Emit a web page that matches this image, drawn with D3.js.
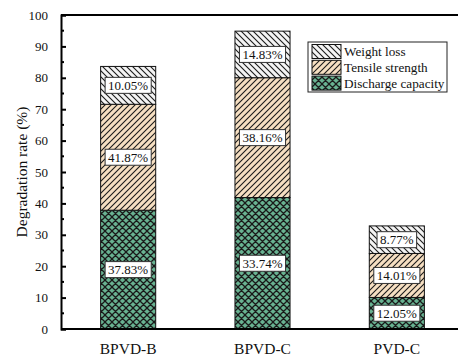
<!DOCTYPE html>
<html>
<head>
<meta charset="utf-8">
<script src="https://cdn.jsdelivr.net/npm/d3@7"></script>
<style>
  html, body { margin: 0; padding: 0; background: #fff; }
  svg { display: block; }
</style>
</head>
<body>
<svg id="chart" width="458" height="359"></svg>
<script>
// Samples on the x axis
const categories = ["BPVD-B", "BPVD-C", "PVD-C"];

// Stacked segment heights (degradation rate, %)
const dischargeCapacity = [37.83, 41.87, 10.05];
const tensileStrength   = [33.74, 38.16, 14.01];
const weightLoss        = [12.05, 14.83, 8.77];

// Percentages printed in the boxes on each segment
const dischargeLabels = ["37.83%", "33.74%", "12.05%"];
const tensileLabels   = ["41.87%", "38.16%", "14.01%"];
const weightLabels    = ["10.05%", "14.83%", "8.77%"];

const seriesNames = ["Discharge capacity", "Tensile strength", "Weight loss"];
const yTicks = [0, 10, 20, 30, 40, 50, 60, 70, 80, 90, 100];

const FONT = "'Liberation Serif', 'DejaVu Serif', serif";

const svg = d3.select("#chart")
  .attr("font-family", FONT)
  .style("font-family", FONT);
const W = 458, H = 359;
const plotLeft = 61, plotRight = 464, plotTop = 15, plotBottom = 329;

// Hatch patterns
const defs = svg.append("defs");
function hatch(id, bg, d, size, sw) {
  const p = defs.append("pattern").attr("id", id)
    .attr("patternUnits", "userSpaceOnUse")
    .attr("width", size).attr("height", size);
  p.append("rect").attr("width", size).attr("height", size).attr("fill", bg);
  p.append("path").attr("d", d).attr("stroke", "#1a1a1a")
    .attr("stroke-width", sw).attr("fill", "none");
}
hatch("pat-cross", "#68b291",
  "M0,0 L7,7 M0,7 L7,0 M-1,1 L1,-1 M6,8 L8,6 M-1,6 L1,8 M6,-1 L8,1", 7, 1.3);
hatch("pat-fwd", "#f6dfc2", "M0,6 L6,0 M-1,1 L1,-1 M5,7 L7,5", 6, 1.1);
hatch("pat-back", "#f4f4f4", "M0,0 L6,6 M-1,5 L1,7 M5,-1 L7,1", 6, 1.1);

const fills = ["url(#pat-cross)", "url(#pat-fwd)", "url(#pat-back)"];

const x = d3.scaleBand().domain(categories).range([plotLeft, plotRight])
  .paddingInner(0.59).paddingOuter(0.295);
const y = d3.scaleLinear().domain([0, 100]).range([plotBottom, plotTop]);

// Stack the three series
const rows = categories.map((c, i) => ({
  cat: c,
  "Discharge capacity": dischargeCapacity[i],
  "Tensile strength": tensileStrength[i],
  "Weight loss": weightLoss[i]
}));
const labelSets = [dischargeLabels, tensileLabels, weightLabels];
const stacked = d3.stack().keys(seriesNames)(rows);

function label(sel) {
  return sel.attr("font-family", FONT).style("font-family", FONT).attr("fill", "#111");
}

const g = svg.append("g");
stacked.forEach((layer, li) => {
  g.selectAll(null).data(layer).enter().append("rect")
    .attr("x", d => x(d.data.cat))
    .attr("width", x.bandwidth())
    .attr("y", d => y(d[1]))
    .attr("height", d => y(d[0]) - y(d[1]))
    .attr("fill", fills[li])
    .attr("stroke", "#111")
    .attr("stroke-width", 1);
});

// Value boxes
stacked.forEach((layer, li) => {
  layer.forEach((d, i) => {
    const cx = x(d.data.cat) + x.bandwidth() / 2;
    const cy = y((d[0] + d[1]) / 2);
    const txt = labelSets[li][i];
    const t = g.append("text")
      .attr("x", cx).attr("y", cy + 4.5)
      .attr("text-anchor", "middle")
      .attr("font-size", 13)
      .call(label)
      .text(txt);
    const w = t.node().getComputedTextLength() + 6;
    g.insert("rect", function () { return t.node(); })
      .attr("x", cx - w / 2).attr("y", cy - 8)
      .attr("width", w).attr("height", 16)
      .attr("fill", "#fff").attr("stroke", "#333").attr("stroke-width", 1);
  });
});

// Frame: top and bottom lines, left axis
svg.append("line").attr("x1", plotLeft).attr("x2", W + 5).attr("y1", plotTop).attr("y2", plotTop)
  .attr("stroke", "#000").attr("stroke-width", 2);
svg.append("line").attr("x1", plotLeft).attr("x2", W + 5).attr("y1", plotBottom).attr("y2", plotBottom)
  .attr("stroke", "#000").attr("stroke-width", 2);

// Y axis with inward ticks
const yAxis = d3.axisRight(y).tickValues(yTicks).tickSize(5).tickFormat("");
const ya = svg.append("g").attr("transform", `translate(${plotLeft},0)`).call(yAxis);
ya.select(".domain").attr("stroke", "#000").attr("stroke-width", 2);
ya.selectAll(".tick line").attr("stroke", "#000").attr("stroke-width", 2);
const minor = d3.range(5, 100, 10);
svg.append("g").selectAll("line").data(minor).enter().append("line")
  .attr("x1", plotLeft).attr("x2", plotLeft + 3)
  .attr("y1", d => y(d)).attr("y2", d => y(d))
  .attr("stroke", "#000").attr("stroke-width", 2);
svg.append("g").selectAll("text").data(yTicks).enter().append("text")
  .attr("x", 48).attr("y", d => y(d) + 4.5)
  .attr("text-anchor", "end").attr("font-size", 13)
  .call(label)
  .text(d => d);

// X category labels
svg.append("g").selectAll("text").data(categories).enter().append("text")
  .attr("x", d => x(d) + x.bandwidth() / 2)
  .attr("y", 354)
  .attr("text-anchor", "middle").attr("font-size", 15.5)
  .call(label)
  .text(d => d);

// Y title
svg.append("text")
  .attr("transform", `translate(27,${(plotTop + plotBottom) / 2}) rotate(-90)`)
  .attr("text-anchor", "middle").attr("font-size", 15.5)
  .call(label)
  .text("Degradation rate (%)");

// Legend
const lg = svg.append("g").attr("transform", "translate(308,42)");
lg.append("rect").attr("width", 139).attr("height", 50)
  .attr("fill", "#fff").attr("stroke", "#222").attr("stroke-width", 1);
const legendItems = [
  { name: "Weight loss", fill: fills[2] },
  { name: "Tensile strength", fill: fills[1] },
  { name: "Discharge capacity", fill: fills[0] }
];
legendItems.forEach((it, i) => {
  lg.append("rect").attr("x", 4).attr("y", 2.5 + i * 15.8)
    .attr("width", 29).attr("height", 14)
    .attr("fill", it.fill).attr("stroke", "#111").attr("stroke-width", 1);
  lg.append("text").attr("x", 36).attr("y", 14 + i * 15.8)
    .attr("font-size", 13.2)
    .call(label)
    .text(it.name);
});
</script>
</body>
</html>
